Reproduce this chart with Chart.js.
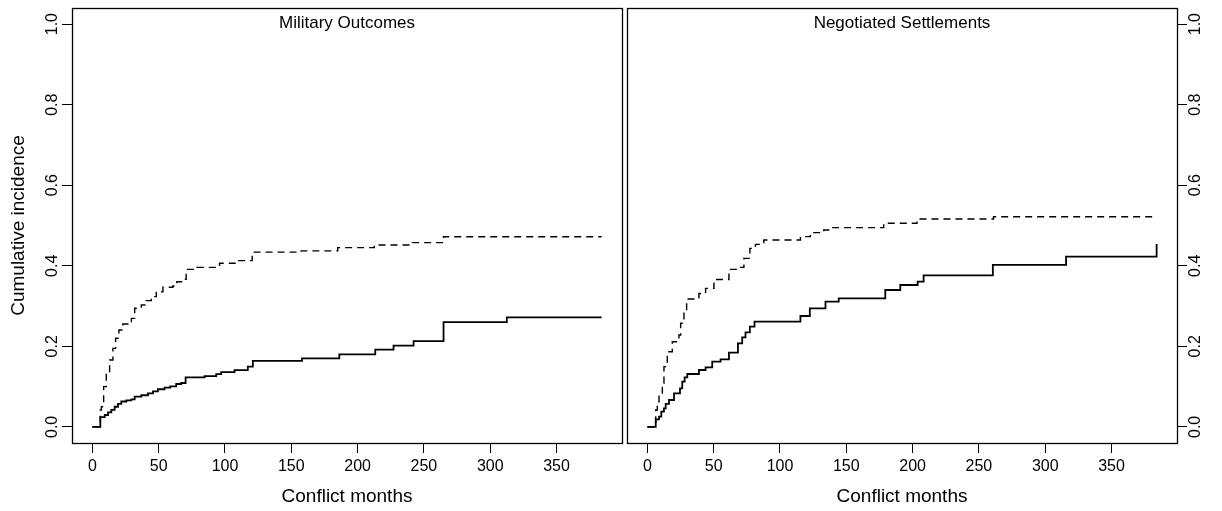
<!DOCTYPE html>
<html>
<head>
<meta charset="utf-8">
<script src="https://cdn.jsdelivr.net/npm/chart.js@4/dist/chart.umd.min.js"></script>
<style>
  body { margin: 0; background: #fff; }
  .panel { position: absolute; top: 0; }
</style>
</head>
<body>
<div class="panel" style="left:0px"><canvas id="leftchart" width="624" height="511"></canvas></div>
<div class="panel" style="left:624px"><canvas id="rightchart" width="598" height="511"></canvas></div>
<script>
// x/y ticks
var xTicks = [0, 50, 100, 150, 200, 250, 300, 350]
var yTicks = [0, 0.2, 0.4, 0.6, 0.8, 1.0]
var yTickLabels = ['0.0', '0.2', '0.4', '0.6', '0.8', '1.0']

// Military Outcomes, solid line (month, cumulative incidence from that month on)
var militarySolidMonths = [0, 6, 9.3, 11.8, 14.3, 16.8, 19.3, 21.8, 25.6, 29.4, 31.9, 36.9, 41.9, 45.7, 49.4, 54.4, 58.7, 63.2, 67, 70.3, 84.6, 93.4, 97.1, 107.2, 117.2, 121, 158.1, 186.2, 213.3, 227.1, 242.2, 264.8, 312.5, 384]
var militarySolidCI = [0, 0.024, 0.0295, 0.036, 0.042, 0.05, 0.057, 0.063, 0.066, 0.0685, 0.075, 0.0785, 0.0834, 0.0884, 0.0934, 0.0973, 0.1007, 0.1065, 0.109, 0.123, 0.126, 0.131, 0.136, 0.141, 0.1495, 0.164, 0.17, 0.18, 0.192, 0.202, 0.213, 0.26, 0.272, 0.272]

// Military Outcomes, dashed line
var militaryDashedMonths = [0, 6, 6.8, 8.5, 10.5, 13, 15.5, 17.5, 20, 23, 26.8, 29.4, 31.9, 36.9, 40.6, 44.4, 48.2, 53.2, 60.7, 63.7, 68.2, 70.7, 78.8, 95.9, 108.4, 120.5, 157.4, 185, 212.6, 241.4, 264.8, 384]
var militaryDashedCI = [0, 0.042, 0.05, 0.1, 0.133, 0.166, 0.195, 0.22, 0.2405, 0.2555, 0.261, 0.2695, 0.2944, 0.3026, 0.3134, 0.3233, 0.3357, 0.3466, 0.3498, 0.3605, 0.3664, 0.391, 0.396, 0.4062, 0.4128, 0.434, 0.437, 0.445, 0.4515, 0.4574, 0.472, 0.472]

// Negotiated Settlements, solid line
var negotiatedSolidMonths = [0, 6.3, 8.8, 10.5, 12.5, 13.8, 16.3, 20.1, 24.6, 26.3, 28.1, 30.1, 38.9, 43.9, 48.9, 55.2, 61.5, 68.3, 71.5, 74, 77.3, 80.8, 115.4, 122.5, 134.3, 144.3, 179.4, 190.7, 203.8, 208.3, 260.5, 315.7, 384, 384]
var negotiatedSolidCI = [0, 0.0188, 0.0254, 0.0378, 0.046, 0.0569, 0.0668, 0.0834, 0.0958, 0.1122, 0.123, 0.1313, 0.1413, 0.148, 0.1619, 0.1678, 0.1842, 0.2075, 0.2224, 0.2348, 0.2488, 0.2612, 0.2753, 0.2944, 0.3108, 0.3193, 0.3399, 0.3523, 0.3605, 0.3764, 0.402, 0.4226, 0.4226, 0.454]

// Negotiated Settlements, dashed line
var negotiatedDashedMonths = [0, 6.3, 7.5, 8.8, 11.3, 12.5, 15, 18.8, 23.8, 25.1, 27.6, 29.6, 38.9, 43.9, 50.2, 61.5, 68.3, 72.8, 77.3, 81.5, 87.8, 115.4, 122.9, 133, 139.3, 178.2, 203.3, 261, 384]
var negotiatedDashedCI = [0, 0.042, 0.0626, 0.079, 0.108, 0.1495, 0.1867, 0.2115, 0.2281, 0.2572, 0.286, 0.3175, 0.331, 0.3438, 0.366, 0.391, 0.396, 0.4184, 0.4433, 0.4532, 0.464, 0.4723, 0.4822, 0.4889, 0.4947, 0.5055, 0.5162, 0.5219, 0.5219]

var FONT = "'Liberation Sans', Arial, Helvetica, sans-serif"
Chart.defaults.font.family = FONT
Chart.defaults.color = '#000'

function toPoints(xs, ys) {
    return xs.map(function (x, i) { return { x: x, y: ys[i] } })
}

// box round the plot area + panel label inside it
var panelBox = {
    id: 'panelBox',
    afterDraw: function (chart, args, opts) {
        var a = chart.chartArea
        var ctx = chart.ctx
        ctx.save()
        ctx.strokeStyle = '#000'
        ctx.lineWidth = 1.3
        ctx.strokeRect(Math.round(a.left) + 0.5, Math.round(a.top) + 0.5, Math.round(a.right - a.left), Math.round(a.bottom - a.top))
        ctx.fillStyle = '#000'
        ctx.font = '17px ' + FONT
        ctx.textAlign = 'center'
        ctx.textBaseline = 'middle'
        ctx.fillText(opts.text, (a.left + a.right) / 2, a.top + 15.5)
        ctx.restore()
    }
}

function makeChart(id, title, solid, dashed, side) {
    var ctx = document.getElementById(id)
    var left = side === 'left'
    return new Chart(ctx, {
        type: 'line',
        data: {
            datasets: [{
                data: toPoints(solid[0], solid[1]),
                borderColor: '#000',
                borderWidth: 1.8,
                stepped: true,
                pointRadius: 0,
                fill: false
            }, {
                data: toPoints(dashed[0], dashed[1]),
                borderColor: '#000',
                borderWidth: 1.4,
                borderDash: [7, 5],
                stepped: true,
                pointRadius: 0,
                fill: false
            }]
        },
        options: {
            responsive: false,
            animation: false,
            devicePixelRatio: 1,
            layout: {
                padding: left ? { top: 8, right: 2, bottom: 0, left: 0 } : { top: 8, right: 0, bottom: 0, left: 3 }
            },
            plugins: {
                legend: { display: false },
                tooltip: { enabled: false },
                panelBox: { text: title }
            },
            scales: {
                x: {
                    type: 'linear',
                    min: -15.36,
                    max: 399.36,
                    afterBuildTicks: function (s) { s.ticks = xTicks.map(function (v) { return { value: v } }) },
                    afterFit: function (s) {
                        s.height = 68
                        s.paddingLeft = 0
                        s.paddingRight = 0
                    },
                    ticks: { font: { size: 16 }, padding: 4, maxRotation: 0, color: '#000' },
                    grid: { drawOnChartArea: false, drawTicks: true, tickLength: 10, color: '#000', lineWidth: 1 },
                    border: { display: true, color: '#000' },
                    title: { display: true, text: 'Conflict months', font: { size: 19 }, padding: { top: 0, bottom: 3 }, color: '#000' }
                },
                y: {
                    position: side,
                    min: -0.04,
                    max: 1.04,
                    afterBuildTicks: function (s) { s.ticks = yTicks.map(function (v) { return { value: v } }) },
                    afterFit: function (s) {
                        s.width = left ? 72 : 45
                        s.paddingTop = 0
                        s.paddingBottom = 0
                    },
                    ticks: {
                        font: { size: 16 },
                        minRotation: 90,
                        maxRotation: 90,
                        crossAlign: 'center',
                        padding: left ? -2 : -3,
                        color: '#000',
                        callback: function (v, i) { return yTickLabels[i] }
                    },
                    grid: { drawOnChartArea: false, drawTicks: true, tickLength: 10, color: '#000', lineWidth: 1 },
                    border: { display: true, color: '#000' },
                    title: { display: left, text: 'Cumulative incidence', font: { size: 19 }, padding: { top: 7, bottom: 0 }, color: '#000' }
                }
            }
        },
        plugins: [panelBox]
    })
}

makeChart('leftchart', 'Military Outcomes', [militarySolidMonths, militarySolidCI], [militaryDashedMonths, militaryDashedCI], 'left')
makeChart('rightchart', 'Negotiated Settlements', [negotiatedSolidMonths, negotiatedSolidCI], [negotiatedDashedMonths, negotiatedDashedCI], 'right')
</script>
</body>
</html>
